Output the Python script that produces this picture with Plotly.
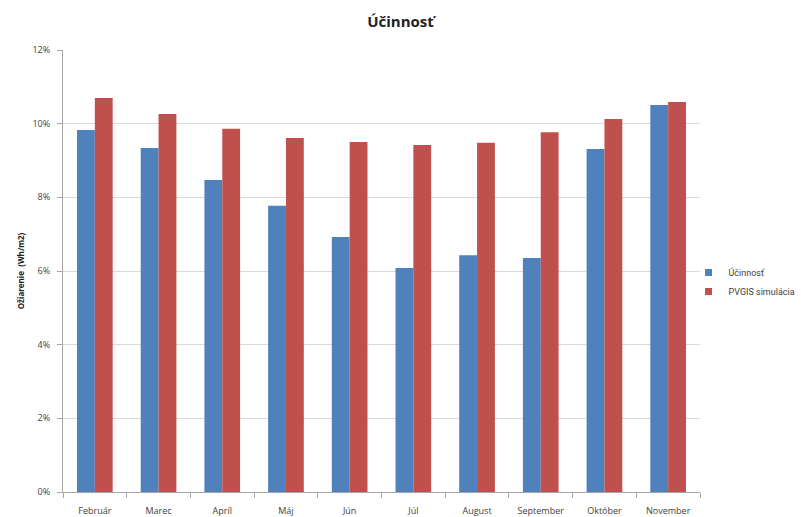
import plotly.graph_objects as go

months = ["Február", "Marec", "Apríl", "Máj", "Jún", "Júl", "August", "September", "Október", "November"]
ucinnost = [9.83, 9.34, 8.47, 7.77, 6.92, 6.08, 6.43, 6.35, 9.31, 10.51]
pvgis = [10.70, 10.26, 9.86, 9.61, 9.50, 9.42, 9.48, 9.77, 10.13, 10.59]
y_ticks = [0, 2, 4, 6, 8, 10, 12]
y_labels = [f"{v}%" for v in y_ticks]
series_names = ["Účinnosť", "PVGIS simulácia"]
colors = ["#4F81BD", "#C0504D"]

fig = go.Figure()
for name, vals, col in zip(series_names, [ucinnost, pvgis], colors):
    fig.add_trace(go.Bar(x=months, y=vals, name=name, marker_color=col,
                         marker_line_width=0, showlegend=False))
for name, col in zip(series_names, colors):
    fig.add_trace(go.Scatter(x=[None], y=[None], mode="markers", name=name,
                             marker=dict(symbol="square", size=7, color=col)))

fig.update_layout(
    width=801, height=517,
    margin=dict(l=63, r=101, t=50, b=25, autoexpand=False),
    paper_bgcolor="white", plot_bgcolor="white",
    font=dict(family="Open Sans", size=9, color="#404040"),
    title=dict(text="<b>Účinnosť</b>", x=0.5, xref="container", y=0.957, yanchor="middle",
               font=dict(size=15, color="#222222")),
    barmode="group", bargap=0.44, bargroupgap=0,
    legend=dict(x=0.982, y=0.475, xanchor="left", yanchor="middle", bgcolor="rgba(0,0,0,0)",
                font=dict(family="Roboto", size=9, color="#404040"), itemwidth=30,
                tracegroupgap=4),
    xaxis=dict(showgrid=False, showline=True, linecolor="#A6A6A6", linewidth=1,
               ticks="outside", tickson="boundaries", ticklen=5, tickcolor="#A6A6A6",
               tickfont=dict(size=9, color="#404040"), ticklabelstandoff=10,
               automargin=False),
    yaxis=dict(range=[0, 12], tickvals=y_ticks, ticktext=y_labels,
               showgrid=True, gridcolor="#D9D9D9", gridwidth=1,
               showline=True, linecolor="#A6A6A6", linewidth=1,
               ticks="outside", ticklen=5, tickcolor="#A6A6A6", ticklabelstandoff=5,
               tickfont=dict(size=9, color="#404040"), zeroline=False, automargin=False,
               title=dict(text="<b>Ožiarenie  (Wh/m2)</b>", font=dict(size=8, color="#222222"),
                          standoff=6)),
)

fig.write_html("out.html")
